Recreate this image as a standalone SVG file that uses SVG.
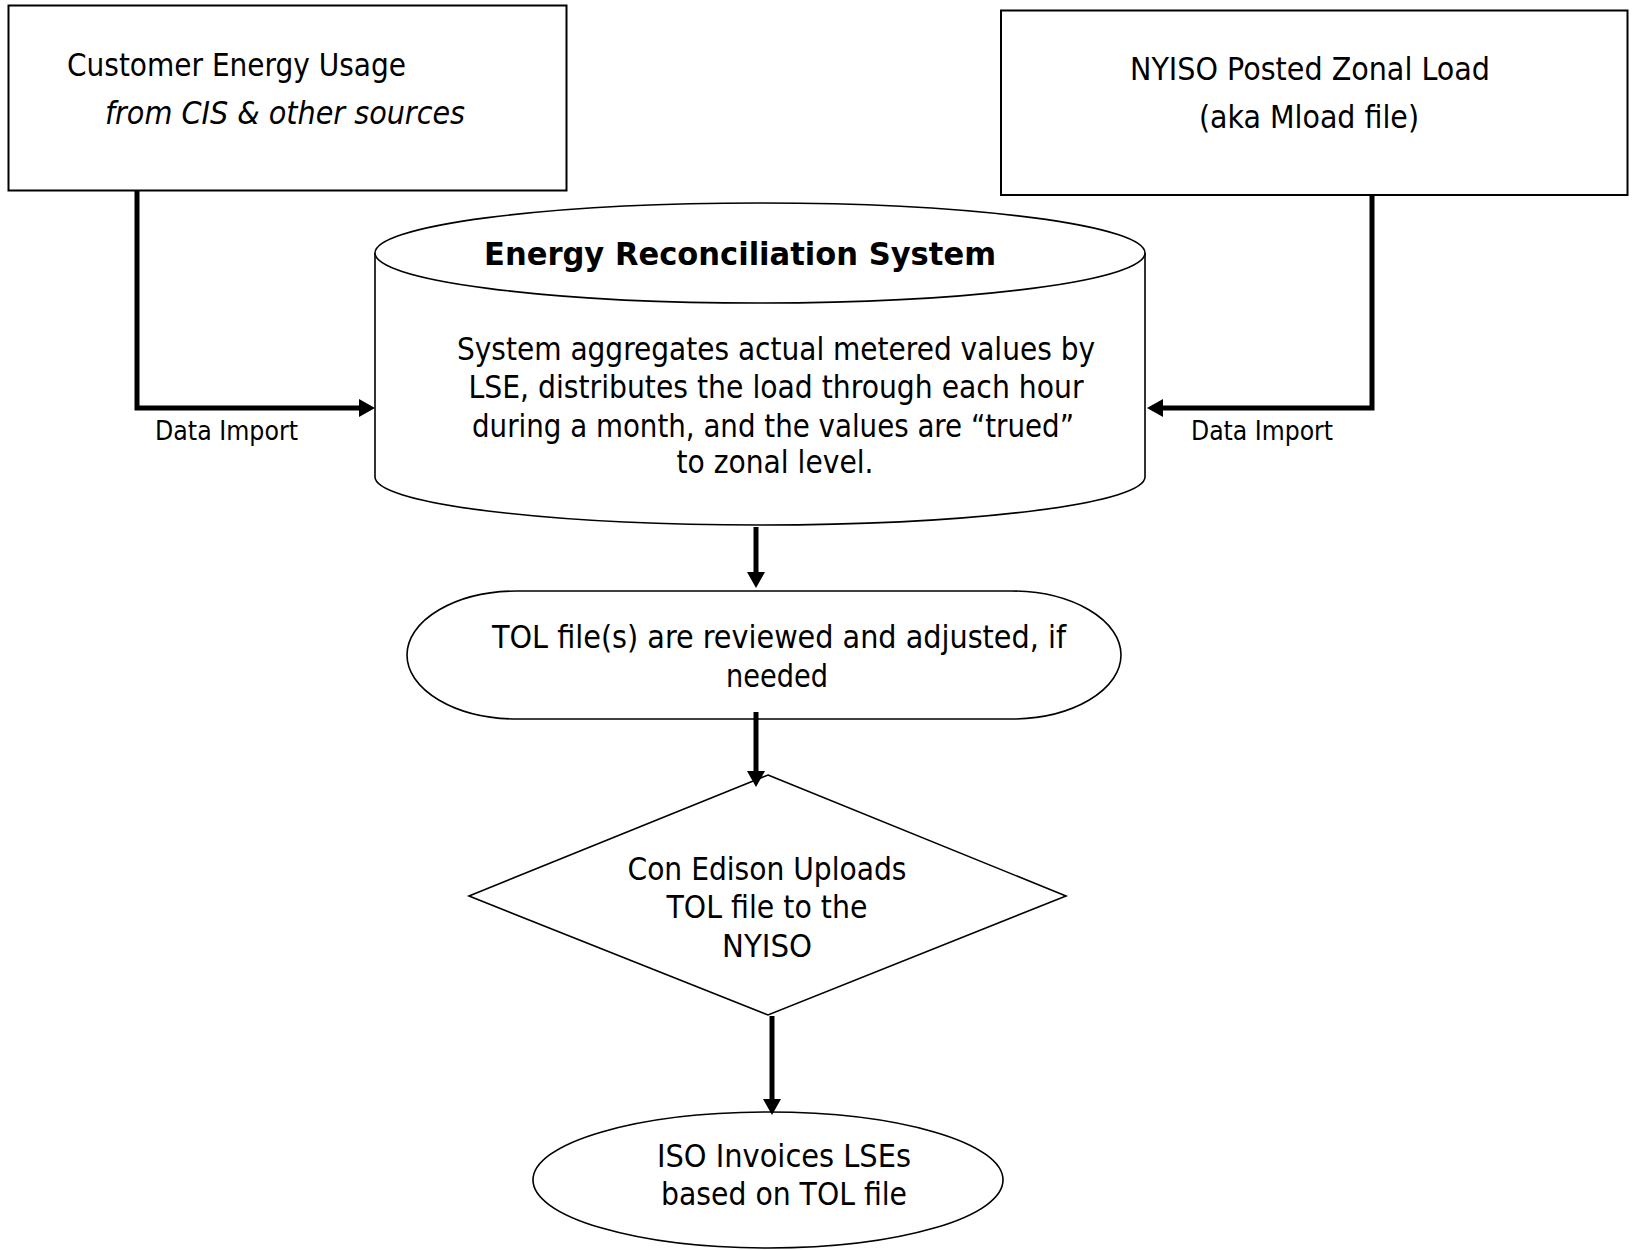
<svg xmlns="http://www.w3.org/2000/svg" width="1635" height="1250" viewBox="0 0 1635 1250">
<style>
.shape{fill:#fff;stroke:#000;stroke-width:2}
.thin{fill:#fff;stroke:#000;stroke-width:1.6}
.t{font-family:"DejaVu Sans Condensed","DejaVu Sans",sans-serif;font-stretch:condensed;font-size:32px;fill:#000}
.m{text-anchor:middle}
.b{font-weight:bold}
.i{font-style:italic}
.s{font-size:26px}
.conn{fill:none;stroke:#000;stroke-width:5;stroke-linejoin:miter}
</style>
<defs>
<marker id="ah" markerUnits="userSpaceOnUse" viewBox="0 -9 16 18" markerWidth="16" markerHeight="18" refX="0" refY="0" orient="auto">
<path d="M0,-9 L16,0 L0,9 Z" fill="#000"/>
</marker>
</defs>
<rect width="1635" height="1250" fill="#fff"/>
<g id="customer-energy-usage">
<rect class="shape" x="8.5" y="5.5" width="558" height="185"/>
<text class="t" x="67" y="76" textLength="339" lengthAdjust="spacingAndGlyphs">Customer Energy Usage</text>
<text class="t i" x="105" y="124" textLength="360" lengthAdjust="spacingAndGlyphs">from CIS &amp; other sources</text>
</g>
<g id="nyiso-posted-zonal-load">
<rect class="shape" x="1001" y="10.5" width="626.5" height="184.5"/>
<text class="t m" x="1310" y="80" textLength="360" lengthAdjust="spacingAndGlyphs">NYISO Posted Zonal Load</text>
<text class="t m" x="1309" y="128" textLength="220" lengthAdjust="spacingAndGlyphs">(aka Mload file)</text>
</g>
<g id="energy-reconciliation-system">
<path class="thin" d="M375,253 L375,477 A385,48 0 0 0 1145,477 L1145,253"/>
<ellipse class="thin" cx="760" cy="253" rx="385" ry="50"/>
<text class="t m b" x="740" y="265" textLength="512" lengthAdjust="spacingAndGlyphs">Energy Reconciliation System</text>
<text class="t m" x="776" y="360" textLength="638" lengthAdjust="spacingAndGlyphs">System aggregates actual metered values by</text>
<text class="t m" x="776" y="398" textLength="615" lengthAdjust="spacingAndGlyphs">LSE, distributes the load through each hour</text>
<text class="t m" x="773" y="437" textLength="602" lengthAdjust="spacingAndGlyphs">during a month, and the values are “trued”</text>
<text class="t m" x="775" y="473" textLength="197" lengthAdjust="spacingAndGlyphs">to zonal level.</text>
</g>
<g id="tol-review">
<rect class="thin" x="407" y="591" width="714" height="128" rx="110" ry="64"/>
<text class="t m" x="779" y="648" textLength="574" lengthAdjust="spacingAndGlyphs">TOL file(s) are reviewed and adjusted, if</text>
<text class="t m" x="777" y="687" textLength="102" lengthAdjust="spacingAndGlyphs">needed</text>
</g>
<g id="con-edison-upload">
<polygon class="thin" points="768,775 1066,896 768,1015 469,896"/>
<text class="t m" x="767" y="880" textLength="279" lengthAdjust="spacingAndGlyphs">Con Edison Uploads</text>
<text class="t m" x="767" y="918" textLength="201" lengthAdjust="spacingAndGlyphs">TOL file to the</text>
<text class="t m" x="767" y="957" textLength="90" lengthAdjust="spacingAndGlyphs">NYISO</text>
</g>
<g id="iso-invoices">
<ellipse class="thin" cx="768" cy="1180" rx="235" ry="68"/>
<text class="t m" x="784" y="1167" textLength="254" lengthAdjust="spacingAndGlyphs">ISO Invoices LSEs</text>
<text class="t m" x="784" y="1205" textLength="246" lengthAdjust="spacingAndGlyphs">based on TOL file</text>
</g>
<g id="connectors">
<path class="conn" d="M137,191 V408 H359" marker-end="url(#ah)"/>
<path class="conn" d="M1372,195 V408 H1163" marker-end="url(#ah)"/>
<path class="conn" d="M756,527 V572" marker-end="url(#ah)"/>
<path class="conn" d="M756,712 V771" marker-end="url(#ah)"/>
<path class="conn" d="M772,1016 V1099" marker-end="url(#ah)"/>
<text class="t s" x="155" y="440" textLength="143" lengthAdjust="spacingAndGlyphs">Data Import</text>
<text class="t s" x="1191" y="440" textLength="142" lengthAdjust="spacingAndGlyphs">Data Import</text>
</g>
</svg>
